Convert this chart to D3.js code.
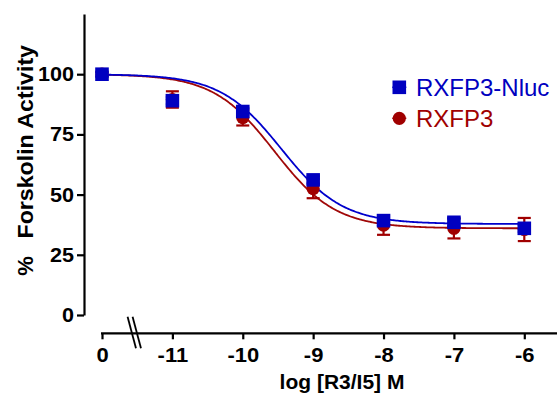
<!DOCTYPE html>
<html>
<head>
<meta charset="utf-8">
<script src="https://cdn.jsdelivr.net/npm/d3@7"></script>
<style>
  html, body { margin: 0; padding: 0; background: #fff; }
  svg { display: block; }
  text { font-family: "Liberation Sans", Arial, Helvetica, sans-serif; }
</style>
</head>
<body>
<svg id="chart" width="557" height="394"></svg>
<script>
// ---- data ----
// log[R3/I5] M positions; the vehicle (0) point is drawn at the -12 slot before the axis break
const xPositions = [-12, -11, -10, -9, -8, -7, -6];
const xTickLabels = ["0", "-11", "-10", "-9", "-8", "-7", "-6"];
const yTicks = [0, 25, 50, 75, 100];

const seriesNames = ["RXFP3-Nluc", "RXFP3"];
const nlucMean = [100, 89.0, 84.5, 56.1, 39.2, 38.5, 36.0];
const nlucSem  = [1.0, 1.5, 1.5, 1.5, 1.5, 1.5, 1.5];
const rxfp3Mean = [100, 89.5, 82.0, 52.5, 37.3, 36.0, 35.5];
const rxfp3Sem  = [1.0, 3.4, 3.3, 4.0, 4.0, 4.2, 4.8];

// fitted sigmoidal dose-response: [top, bottom, logIC50, hillSlope]
const nlucFit  = [100, 37.8, -9.45, 1.0];
const rxfp3Fit = [100, 36.0, -9.55, 1.0];

// ---- layout ----
const BLUE = "#0000c0", BLUE_LINE = "#0000cc", RED = "#a00000", RED_LINE = "#a00808";
const svg = d3.select("#chart");

const x = d3.scaleLinear().domain([-12, -6]).range([102, 524.3]);
const y = d3.scaleLinear().domain([0, 125]).range([315, 14]);
const xAxisY = 333.3;
const yAxisX = 84;

// ---- y axis ----
const yAxis = d3.axisLeft(y).tickValues(yTicks).tickSize(7).tickSizeOuter(0).tickPadding(3)
  .tickFormat(d3.format("d"));
const gy = svg.append("g").attr("transform", `translate(${yAxisX},0)`).call(yAxis);
gy.select(".domain").attr("stroke", "#000").attr("stroke-width", 2.2);
gy.selectAll(".tick line").attr("stroke", "#000").attr("stroke-width", 2.2);
gy.selectAll(".tick text").attr("fill", "#000").attr("font-size", 20).attr("font-weight", "bold")
  .style("font-family", '"Liberation Sans", Arial, sans-serif')
  .each(function () {
    const w = this.getComputedTextLength();
    d3.select(this).attr("textLength", w * 1.08).attr("lengthAdjust", "spacingAndGlyphs");
  });

// ---- x axis ----
const xAxis = d3.axisBottom(x).tickValues(xPositions).tickSize(6).tickSizeOuter(0).tickPadding(9)
  .tickFormat((d, i) => xTickLabels[i]);
const gx = svg.append("g").attr("transform", `translate(0,${xAxisY})`).call(xAxis);
gx.select(".domain").remove();
gx.append("line").attr("x1", x(-12) - 1).attr("x2", x(-5.52)).attr("y1", 0).attr("y2", 0)
  .attr("stroke", "#000").attr("stroke-width", 2.2);
gx.selectAll(".tick line").attr("stroke", "#000").attr("stroke-width", 2.2);
gx.selectAll(".tick text").attr("fill", "#000").attr("font-size", 20).attr("font-weight", "bold")
  .style("font-family", '"Liberation Sans", Arial, sans-serif')
  .each(function () {
    const w = this.getComputedTextLength();
    d3.select(this).attr("textLength", w * 1.1).attr("lengthAdjust", "spacingAndGlyphs");
  });

// axis break marks "//"
const breakAt = x(-11.54);
[-2.6, 2.4].forEach(off => {
  gx.append("line")
    .attr("x1", breakAt + off - 4.2).attr("y1", -16.5)
    .attr("x2", breakAt + off + 4.2).attr("y2", 15)
    .attr("stroke", "#000").attr("stroke-width", 1.8);
});

// ---- axis titles ----
svg.append("text")
  .attr("transform", `translate(32.5,${266}) rotate(-90)`)
  .attr("text-anchor", "middle").attr("font-size", 22).attr("font-weight", "bold")
  .text("%");
svg.append("text")
  .attr("transform", `translate(32.5,${238.5}) rotate(-90)`)
  .attr("text-anchor", "start").attr("font-size", 22).attr("font-weight", "bold")
  .attr("textLength", 193.5).attr("lengthAdjust", "spacingAndGlyphs")
  .text("Forskolin Activity");
svg.append("text")
  .attr("x", 342).attr("y", 388.5)
  .attr("text-anchor", "middle").attr("font-size", 21).attr("font-weight", "bold")
  .text("log [R3/I5] M");

// ---- fitted curves ----
const curveXs = d3.range(-12, -6.0001, 0.02).concat([-6]);
function hill(p, lx) { return p[1] + (p[0] - p[1]) / (1 + Math.pow(10, p[3] * (lx - p[2]))); }
const line = d3.line().x(d => x(d[0])).y(d => y(d[1])).curve(d3.curveMonotoneX);

svg.append("path").datum(curveXs.map(lx => [lx, hill(rxfp3Fit, lx)]))
  .attr("d", line).attr("fill", "none").attr("stroke", RED_LINE).attr("stroke-width", 1.8);
svg.append("path").datum(curveXs.map(lx => [lx, hill(nlucFit, lx)]))
  .attr("d", line).attr("fill", "none").attr("stroke", BLUE_LINE).attr("stroke-width", 1.8);

// ---- error bars + markers ----
function errorBars(means, sems, color) {
  const g = svg.append("g").attr("stroke", color).attr("stroke-width", 2.2);
  xPositions.forEach((px, i) => {
    const cx = x(px), top = y(means[i] + sems[i]), bot = y(means[i] - sems[i]);
    g.append("line").attr("x1", cx).attr("x2", cx).attr("y1", top).attr("y2", bot);
    g.append("line").attr("x1", cx - 6.5).attr("x2", cx + 6.5).attr("y1", top).attr("y2", top);
    g.append("line").attr("x1", cx - 6.5).attr("x2", cx + 6.5).attr("y1", bot).attr("y2", bot);
  });
}
errorBars(rxfp3Mean, rxfp3Sem, RED);
svg.append("g").selectAll("circle").data(rxfp3Mean).join("circle")
  .attr("cx", (d, i) => x(xPositions[i])).attr("cy", d => y(d)).attr("r", 6.6).attr("fill", RED);

errorBars(nlucMean, nlucSem, BLUE);
const sq = 13.6;
svg.append("g").selectAll("rect").data(nlucMean).join("rect")
  .attr("x", (d, i) => x(xPositions[i]) - sq / 2).attr("y", d => y(d) - sq / 2)
  .attr("width", sq).attr("height", sq).attr("fill", BLUE);

// ---- legend ----
const leg = svg.append("g");
const legX = 399.3;
[[87.3, BLUE, "rect"], [118.3, RED, "circle"]].forEach(([ly, col, shape], i) => {
  leg.append("line").attr("x1", legX - 7).attr("x2", legX + 7).attr("y1", ly).attr("y2", ly)
    .attr("stroke", col).attr("stroke-width", 1.5);
  if (shape === "rect") {
    leg.append("rect").attr("x", legX - sq / 2).attr("y", ly - sq / 2).attr("width", sq).attr("height", sq).attr("fill", col);
  } else {
    leg.append("circle").attr("cx", legX).attr("cy", ly).attr("r", 6.6).attr("fill", col);
  }
  leg.append("text").attr("x", 416).attr("y", ly + 8.2).attr("font-size", 24).attr("fill", col)
    .text(seriesNames[i]);
});
</script>
</body>
</html>
